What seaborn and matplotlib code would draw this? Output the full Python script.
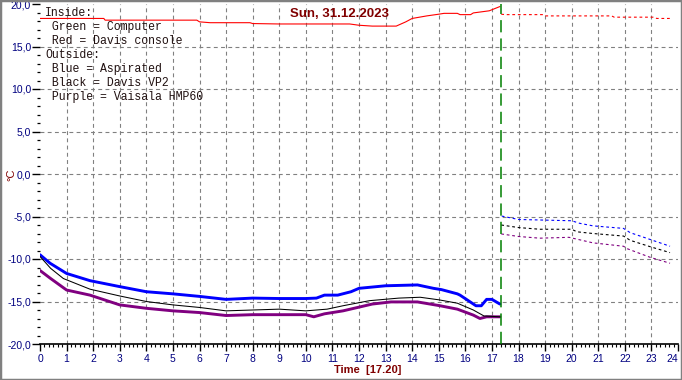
import numpy as np
import pandas as pd
import matplotlib
matplotlib.use("Agg")
import matplotlib.pyplot as plt
import seaborn as sns
from matplotlib.patches import Rectangle
from matplotlib.ticker import FuncFormatter, MultipleLocator

# Measured values (hours, deg C)
blue_t = [0, 0.38, 1.0, 1.88, 3.0, 4.0, 5.0, 6.0, 7.0, 8.0, 9.0, 10.0, 10.4, 10.7, 11.2,
          11.7, 12.0, 13.0, 14.2, 14.8, 15.1, 15.7, 15.8, 16.4, 16.6, 16.8, 17.0, 17.3]
blue_v = [-9.5, -10.5, -11.7, -12.55, -13.25, -13.85, -14.1, -14.4, -14.75, -14.6, -14.65,
          -14.65, -14.6, -14.25, -14.25, -13.85, -13.45, -13.15, -13.05, -13.45, -13.6,
          -14.1, -14.25, -15.5, -15.5, -14.75, -14.75, -15.3]

black_t = [0, 0.4, 0.88, 1.88, 3.0, 4.0, 5.0, 6.0, 7.0, 8.0, 9.0, 10.0, 10.8, 11.4, 12.4,
           13.5, 14.3, 15.0, 15.7, 16.3, 16.7, 17.3]
black_v = [-9.7, -11.1, -12.3, -13.55, -14.35, -15.0, -15.4, -15.7, -16.1, -16.0, -15.9,
           -16.1, -15.9, -15.5, -14.9, -14.6, -14.5, -14.8, -15.2, -16.0, -16.7, -16.8]

purple_t = [0, 0.38, 1.0, 1.88, 3.0, 4.0, 5.0, 6.0, 7.0, 8.0, 9.0, 10.0, 10.3, 10.7, 11.4,
            12.5, 13.2, 14.2, 15.05, 15.7, 16.3, 16.55, 16.8, 17.3]
purple_v = [-11.35, -12.25, -13.65, -14.25, -15.4, -15.8, -16.1, -16.3, -16.65, -16.55,
            -16.55, -16.55, -16.8, -16.45, -16.1, -15.3, -15.05, -15.05, -15.5, -15.9,
            -16.6, -17.0, -16.8, -16.8]

red_t = [0, 2.4, 2.45, 5.9, 6.0, 6.4, 7.9, 8.0, 9.0, 11.65, 12.0, 12.5, 13.4, 13.76, 14.0,
         14.55, 15.0, 15.2, 15.7, 15.8, 16.2, 16.3, 16.9, 17.3]
red_v = [18.3, 18.3, 18.1, 18.1, 17.9, 17.8, 17.8, 17.7, 17.65, 17.65, 17.5, 17.4, 17.4,
         17.9, 18.3, 18.6, 18.8, 18.9, 18.9, 18.75, 18.75, 18.95, 19.2, 19.7]

# Forecast (dashed) after current time
red_ft = [17.35, 17.5, 18.9, 19.0, 21.5, 21.6, 23.1, 23.2, 23.7]
red_fv = [18.8, 18.75, 18.75, 18.6, 18.6, 18.45, 18.45, 18.3, 18.3]
blue_ft = [17.37, 18.0, 20.0, 20.3, 20.8, 21.95, 22.2, 22.95, 23.7]
blue_fv = [-4.95, -5.35, -5.5, -5.8, -6.1, -6.4, -6.9, -7.7, -8.5]
black_ft = [17.35, 18.0, 18.8, 20.0, 20.2, 20.8, 21.95, 22.2, 22.95, 23.7]
black_fv = [-6.0, -6.3, -6.5, -6.5, -6.8, -7.0, -7.3, -7.8, -8.55, -9.25]
purple_ft = [17.35, 18.0, 18.8, 19.9, 20.8, 21.95, 22.1, 22.95, 23.7]
purple_fv = [-7.05, -7.35, -7.55, -7.45, -8.1, -8.5, -8.8, -9.8, -10.5]

hour_ticks = list(range(0, 25))
now_hour = 17 + 20 / 60
date_text = "Sun, 31.12.2023"
legend_lines = ["Inside:", " Green = Computer", " Red = Davis console", "Outside:",
                " Blue = Aspirated", " Black = Davis VP2", " Purple = Vaisala HMP60"]

sns.set_style("white")
plt.rcParams["font.family"] = ["Liberation Sans", "DejaVu Sans"]

fig = plt.figure(figsize=(6.82, 3.80), dpi=100)
ax = fig.add_axes([40 / 682, 36 / 380, 638 / 682, 340 / 380])
ax.set_xlim(0, 24)
ax.set_ylim(-20, 20)

# grid
grid_kw = dict(color="#808080", lw=0.8, linestyle=(0, (3.5, 3)), zorder=0)
ax.vlines(np.arange(1, 24), -20, 20, **grid_kw)
ax.hlines(np.arange(-15, 20, 5), 0, 24, **grid_kw)

series = [
    (purple_t, purple_v, "#800080", 2.1),
    (blue_t, blue_v, "#0000ff", 2.1),
    (black_t, black_v, "black", 0.75),
    (red_t, red_v, "red", 0.8),
]
for t, v, c, lw in series:
    sns.lineplot(x=t, y=v, ax=ax, color=c, lw=lw, sort=False)

forecasts = [
    (red_ft, red_fv, "red"),
    (blue_ft, blue_fv, "#0000ff"),
    (black_ft, black_fv, "black"),
    (purple_ft, purple_fv, "#800080"),
]
for t, v, c in forecasts:
    sns.lineplot(x=t, y=v, ax=ax, color=c, lw=0.8, sort=False,
                 linestyle=(0, (2.5, 2.5)))

ax.axvline(now_hour, color="#008000", lw=1.1, linestyle=(0, (8, 4)), zorder=5)

# axes styling
for s in ["top", "right", "left"]:
    ax.spines[s].set_visible(False)
ax.spines["bottom"].set_color("black")
ax.spines["bottom"].set_linewidth(1.2)

ax.set_xticks(hour_ticks)
ax.xaxis.set_minor_locator(MultipleLocator(1 / 6))
ax.yaxis.set_major_locator(MultipleLocator(5))
ax.yaxis.set_minor_locator(MultipleLocator(1))
ax.yaxis.set_major_formatter(FuncFormatter(lambda v, p: f"{v:.1f}".replace(".", ",")))
ax.tick_params(axis="both", which="both", bottom=True, left=True, direction="out",
               colors="black")
ax.tick_params(axis="both", which="major", labelcolor="#000080", labelsize=7.5)
ax.tick_params(axis="x", which="major", length=5, width=1, pad=2)
ax.tick_params(axis="x", which="minor", length=2.5, width=0.8)
ax.tick_params(axis="y", which="major", length=5.5, width=1, pad=1)
ax.tick_params(axis="y", which="minor", length=2.5, width=0.9)
ax.set_xlabel("")
ax.set_ylabel("")

# keep the "24" label inside the frame
ax.get_xticklabels()[-1].set_ha("right")

# texts
fig.text(340 / 682, 1 - 14 / 380, date_text, color="#800000", fontsize=9.5,
         fontweight="bold", ha="center", va="center")
fig.text(368 / 682, 1 - 370 / 380, "Time  [17.20]", color="#800000", fontsize=8,
         fontweight="bold", ha="center", va="center")
fig.text(11 / 682, 1 - 175 / 380, "°C", color="#800000", fontsize=8,
         rotation=90, ha="center", va="center")

for i, line in enumerate(legend_lines):
    fig.text(45 / 682, 1 - (13.3 + i * 13.9) / 380, line, color="#201010",
             fontsize=8.3, family="Liberation Mono", ha="left", va="center")

fig.patches.append(Rectangle((0, 0), 1, 1, transform=fig.transFigure, fill=False,
                             edgecolor="#808080", lw=2.5))

fig.savefig("out.png", dpi=100)
